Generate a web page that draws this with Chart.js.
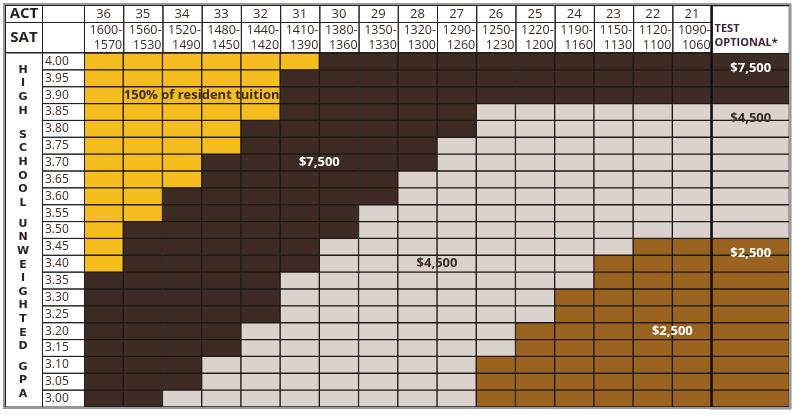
<!DOCTYPE html>
<html><head><meta charset="utf-8">
<script src="https://cdn.jsdelivr.net/npm/chart.js@4"></script>
<style>html,body{margin:0;padding:0;background:#fff}#w{width:795px;height:415px}</style>
</head><body><div id="w"><canvas id="c"></canvas></div>
<script>
const gpaLabels = ['4.00','3.95','3.90','3.85','3.80','3.75','3.70','3.65','3.60','3.55','3.50','3.45','3.40','3.35','3.30','3.25','3.20','3.15','3.10','3.05','3.00'];
const actLabels = ['36','35','34','33','32','31','30','29','28','27','26','25','24','23','22','21'];
const satHigh = ['1600-','1560-','1520-','1480-','1440-','1410-','1380-','1350-','1320-','1290-','1250-','1220-','1190-','1150-','1120-','1090-'];
const satLow = ['1570','1530','1490','1450','1420','1390','1360','1330','1300','1260','1230','1200','1160','1130','1100','1060'];
// number of gold (150% tuition) columns from ACT 36, per GPA row
const goldCount = [6,5,5,5,4,4,3,3,2,2,1,1,1,0,0,0,0,0,0,0,0];
// first column index with $4,500 (99 = none)
const grayStart = [99,99,99,10,10,9,9,8,8,7,7,6,6,5,5,5,4,4,3,3,2];
// first column index with $2,500 (99 = none)
const bronzeStart = [99,99,99,99,99,99,99,99,99,99,99,14,13,13,12,12,11,11,10,10,10];
// test optional tier per row: 0=$7,500 1=$4,500 2=$2,500
const testOptional = [0,0,0,1,1,1,1,1,1,1,1,2,2,2,2,2,2,2,2,2,2];
const awardText = [
  {t:'150% of resident tuition', x:3, row:2, c:'#3d2b24'},
  {t:'$7,500', x:6, row:6, c:'#ffffff'},
  {t:'$4,500', x:9, row:12, c:'#3d2b24'},
  {t:'$2,500', x:15, row:16, c:'#ffffff'},
  {t:'$7,500', x:17, row:0.4, c:'#ffffff'},
  {t:'$4,500', x:17, row:3.4, c:'#3d2b24'},
  {t:'$2,500', x:17, row:11.4, c:'#ffffff'}
];
const sideWords = [['HIGH',70],['SCHOOL',135],['UNWEIGHTED',224],['GPA',367]];

const GOLD='#f6bd1f', DARK='#3d2b24', GRAY='#dbd2cd', BRONZE='#9a6420';
function tier(r,c){ if(c<goldCount[r]) return GOLD; if(c>=bronzeStart[r]) return BRONZE; if(c>=grayStart[r]) return GRAY; return DARK; }
const datasets=[];
for(let c=0;c<16;c++){
  datasets.push({data:gpaLabels.map(()=>1),backgroundColor:gpaLabels.map((_,r)=>tier(r,c)),borderColor:'#1e1a18',borderWidth:1,borderSkipped:false});
}
datasets.push({data:gpaLabels.map(()=>2),backgroundColor:gpaLabels.map((_,r)=>[DARK,GRAY,BRONZE][testOptional[r]]),borderColor:'#1e1a18',borderWidth:1,borderSkipped:false});

const deco={id:'deco',afterDraw(ch){
  const ctx=ch.ctx,xs=ch.scales.x,ys=ch.scales.y,ca=ch.chartArea;
  const rh=(ca.bottom-ca.top)/gpaLabels.length;
  ctx.save();
  ctx.textBaseline='middle';
  // header
  ctx.strokeStyle='#222';ctx.lineWidth=1;
  ctx.font='15px "Noto Sans"';ctx.fillStyle='#3d2b24';
  for(let i=0;i<16;i++){
    const x0=xs.getPixelForValue(i),x1=xs.getPixelForValue(i+1);
    ctx.strokeRect(x0+0.5,5.5,x1-x0,17);ctx.strokeRect(x0+0.5,22.5,x1-x0,30);
    ctx.textAlign='center';ctx.font='13px "Open Sans"';
    ctx.fillText(actLabels[i],(x0+x1)/2,14);
    ctx.textAlign='right';ctx.font='12.5px "Open Sans"';
    ctx.fillText(satHigh[i],x1-1,30);ctx.fillText(satLow[i],x1-1,45);
  }
  const tx0=xs.getPixelForValue(16),tx1=xs.getPixelForValue(18);
  ctx.textAlign='left';ctx.font='bold 11px "Open Sans"';ctx.fillStyle='#3b2240';
  ctx.fillText('TEST',tx0+3,29);ctx.fillText('OPTIONAL*',tx0+3,43);
  ctx.strokeStyle='#111';ctx.lineWidth=2.5;ctx.strokeRect(tx0,5,tx1-tx0,ca.bottom-4);
  // ACT / SAT
  ctx.lineWidth=1;ctx.strokeStyle='#222';
  ctx.strokeRect(5.5,5.5,37,17);ctx.strokeRect(42.5,5.5,42,17);
  ctx.strokeRect(5.5,22.5,37,30);ctx.strokeRect(42.5,22.5,42,30);
  ctx.fillStyle='#2a2220';ctx.font='bold 15px "Open Sans"';ctx.textAlign='center';
  ctx.fillText('ACT',24,14);ctx.fillText('SAT',24,38);
  // GPA labels
  ctx.font='12px "Open Sans"';ctx.textAlign='left';ctx.fillStyle='#3d2b24';
  gpaLabels.forEach((g,r)=>{const y=ys.getPixelForValue(r);ctx.strokeRect(42.5,y-rh/2,42,rh);ctx.fillText(g,45,y);});
  ctx.strokeRect(5.5,ca.top,37,ca.bottom-ca.top);
  // side letters
  ctx.font='bold 11px "DejaVu Sans"';ctx.textAlign='center';ctx.fillStyle='#2a2220';
  sideWords.forEach(([w,y0])=>{[...w].forEach((ch2,k)=>ctx.fillText(ch2,23,y0+k*13.6));});
  // award labels
  ctx.font='bold 13px "Open Sans"';
  awardText.forEach(a=>{ctx.fillStyle=a.c;ctx.fillText(a.t,xs.getPixelForValue(a.x),ys.getPixelForValue(a.row));});
  // outer frame
  ctx.strokeStyle='#9a9a9a';ctx.lineWidth=2;ctx.strokeRect(4,4,786,ca.bottom-3);
  ctx.restore();
}};

new Chart(document.getElementById('c'),{type:'bar',
 data:{labels:gpaLabels,datasets},
 options:{indexAxis:'y',responsive:true,maintainAspectRatio:false,animation:false,
  layout:{padding:{left:84,top:53,right:5,bottom:8}},
  datasets:{bar:{barPercentage:1,categoryPercentage:1}},
  plugins:{legend:{display:false},tooltip:{enabled:false}},
  scales:{x:{stacked:true,min:0,max:18,display:false},y:{stacked:true,display:false}}},
 plugins:[deco]});
</script></body></html>
